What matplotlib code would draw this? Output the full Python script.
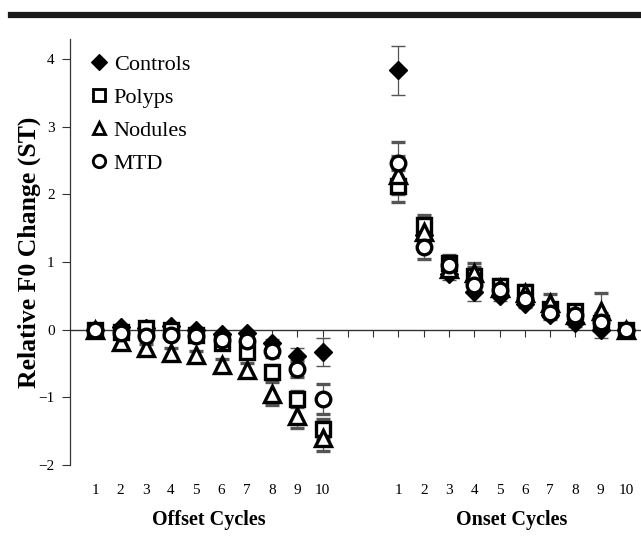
import matplotlib
matplotlib.use("Agg")
import matplotlib.pyplot as plt
from matplotlib.lines import Line2D
import numpy as np

plt.rcParams['font.family'] = ['Liberation Serif', 'DejaVu Serif']
plt.rcParams['axes.unicode_minus'] = True

cycles = list(range(1, 11))
tick_labels = [str(c) for c in cycles]
group_names = ["Offset Cycles", "Onset Cycles"]
series_names = ["Controls", "Polyps", "Nodules", "MTD"]

offset_controls = [0, 0.04, 0.03, 0.05, 0.0, -0.07, -0.05, -0.19, -0.39, -0.33]
offset_polyps = [0, -0.03, 0.03, -0.01, -0.08, -0.20, -0.33, -0.62, -1.02, -1.47]
offset_nodules = [0, -0.18, -0.27, -0.35, -0.37, -0.52, -0.60, -0.95, -1.27, -1.60]
offset_mtd = [0, -0.05, -0.10, -0.08, -0.10, -0.15, -0.17, -0.32, -0.58, -1.02]

onset_controls = [3.83, 1.40, 0.82, 0.55, 0.50, 0.38, 0.22, 0.10, 0.00, 0]
onset_polyps = [2.12, 1.55, 0.98, 0.80, 0.65, 0.55, 0.30, 0.28, 0.10, 0]
onset_nodules = [2.29, 1.45, 0.90, 0.84, 0.62, 0.54, 0.40, 0.22, 0.27, 0]
onset_mtd = [2.47, 1.22, 0.95, 0.66, 0.58, 0.45, 0.25, 0.22, 0.12, 0]

offset_err_controls = [0, 0.03, 0.03, 0.03, 0.03, 0.03, 0.04, 0.05, 0.12, 0.20]
offset_err_polyps = [0, 0.04, 0.05, 0.05, 0.05, 0.06, 0.08, 0.10, 0.12, 0.15]
offset_err_nodules = [0, 0.06, 0.06, 0.08, 0.06, 0.08, 0.10, 0.17, 0.18, 0.20]
offset_err_mtd = [0, 0.04, 0.05, 0.05, 0.05, 0.06, 0.08, 0.08, 0.12, 0.22]

onset_err_controls = [0.36, 0.10, 0.08, 0.12, 0.07, 0.06, 0.08, 0.06, 0.12, 0]
onset_err_polyps = [0.24, 0.15, 0.12, 0.12, 0.10, 0.10, 0.10, 0.08, 0.10, 0]
onset_err_nodules = [0.28, 0.15, 0.10, 0.15, 0.10, 0.12, 0.12, 0.08, 0.27, 0]
onset_err_mtd = [0.30, 0.18, 0.10, 0.10, 0.10, 0.10, 0.08, 0.08, 0.12, 0]

offset_pos = np.arange(1, 11)
onset_pos = np.arange(13, 23)
xpos = np.concatenate([offset_pos, onset_pos])

series = [
    ("Controls", offset_controls + onset_controls, offset_err_controls + onset_err_controls,
     dict(marker='D', mfc='black', mec='black', ms=9.5, mew=1)),
    ("Polyps", offset_polyps + onset_polyps, offset_err_polyps + onset_err_polyps,
     dict(marker='s', mfc='white', mec='black', ms=10, mew=2.4)),
    ("Nodules", offset_nodules + onset_nodules, offset_err_nodules + onset_err_nodules,
     dict(marker='^', mfc='white', mec='black', ms=11, mew=2.4)),
    ("MTD", offset_mtd + onset_mtd, offset_err_mtd + onset_err_mtd,
     dict(marker='o', mfc='white', mec='black', ms=10.5, mew=2.4)),
]

fig = plt.figure(figsize=(6.41, 5.48), dpi=100)
ax = fig.add_axes([0.1092, 0.1515, 0.8908, 0.7779])

ax.axhline(0, color='#333333', lw=1.0, zorder=1)

handles = []
for name, vals, errs, style in series:
    ax.errorbar(xpos, vals, yerr=errs, linestyle='none', ecolor='#555555',
                elinewidth=0.9, capsize=5, capthick=1.0, zorder=3, **style)
    hstyle = dict(style)
    hstyle['ms'] = style['ms'] * 0.85
    hstyle['mew'] = style['mew'] * 0.85
    handles.append(Line2D([], [], linestyle='none', label=name, **hstyle))

ax.set_xlim(0, 22.6)
ax.set_ylim(-2, 4.3)
ax.set_yticks([-2, -1, 0, 1, 2, 3, 4])
ax.set_yticklabels(['\u22122', '\u22121', '0', '1', '2', '3', '4'])
ax.tick_params(axis='y', direction='out', length=6, width=0.8, colors='#333333',
               labelcolor='black', labelsize=11, pad=5)

for s in ['top', 'right']:
    ax.spines[s].set_visible(False)
ax.spines['left'].set_color('#333333')
ax.spines['left'].set_linewidth(0.9)
ax.spines['left'].set_bounds(-2, 4.3)
ax.spines['bottom'].set_visible(False)
ax.set_xticks(np.arange(1, 23))
ax.tick_params(axis='x', direction='out', length=5, width=0.8, colors='#333333',
               labelbottom=False)
ax.spines['bottom'].set_position(('data', 0))

trans = ax.get_xaxis_transform()
for p, lab in zip(offset_pos, tick_labels):
    ax.text(p, -0.045, lab, transform=trans, ha='center', va='top', fontsize=11)
for p, lab in zip(onset_pos, tick_labels):
    ax.text(p, -0.045, lab, transform=trans, ha='center', va='top', fontsize=11)
ax.text(offset_pos.mean(), -0.105, group_names[0], transform=trans, ha='center', va='top',
        fontsize=14.5, fontweight='bold')
ax.text(onset_pos.mean(), -0.105, group_names[1], transform=trans, ha='center', va='top',
        fontsize=14.5, fontweight='bold')

ax.set_ylabel("Relative F0 Change (ST)", fontsize=18.5, fontweight='bold')
ax.yaxis.set_label_coords(-0.05, 0.5)

leg = ax.legend(handles=handles, loc='upper left', bbox_to_anchor=(0.022, 0.985),
                frameon=False, fontsize=16, handlelength=0.7, handletextpad=0.3,
                labelspacing=0.56, borderaxespad=0.0)

fig.add_artist(Line2D([0.017, 1.0], [0.973, 0.973], transform=fig.transFigure,
                      color='#1a1a1a', lw=4.5))

fig.savefig("out.png", dpi=100)
